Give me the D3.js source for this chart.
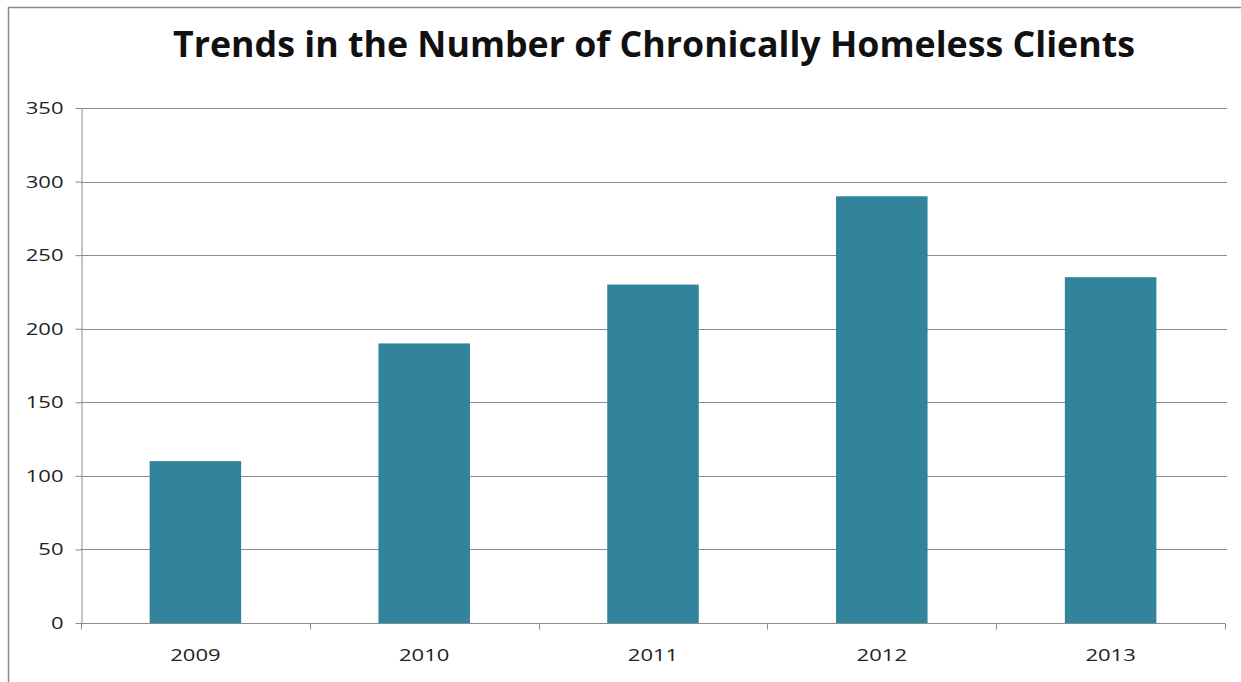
<!DOCTYPE html>
<html>
<head>
<meta charset="utf-8">
<script src="https://cdn.jsdelivr.net/npm/d3@7"></script>
<style>
  html, body { margin: 0; padding: 0; background: #fff; }
  svg { display: block; }
</style>
</head>
<body>
<svg id="chart" width="1241" height="682"></svg>
<script>
// Chronically homeless clients per year
const years = ["2009", "2010", "2011", "2012", "2013"];
const clients = [110, 190, 230, 290, 235];
const yTicks = [0, 50, 100, 150, 200, 250, 300, 350];

const svg = d3.select("#chart");
const W = 1241, H = 682;
const plot = { left: 81, right: 1225, top: 108, bottom: 623 };
const gridColor = "#8c8c8c";
const font = "'Open Sans', 'Noto Sans', sans-serif";
const digitWidth = 12.6; // wide label glyphs

// chart frame
svg.append("path")
  .attr("d", `M8.5,${H} V7.5 H${W}`)
  .attr("fill", "none")
  .attr("stroke", "#8a8a8a")
  .attr("stroke-width", 1.5);

// title
svg.append("text")
  .attr("x", 173)
  .attr("y", 57)
  .attr("font-family", font)
  .attr("font-weight", "bold")
  .attr("font-size", 35)
  .attr("textLength", 962)
  .attr("lengthAdjust", "spacingAndGlyphs")
  .attr("fill", "#111")
  .text("Trends in the Number of Chronically Homeless Clients");

const x = d3.scaleBand().domain(years).range([plot.left, plot.right]).padding(0);
const y = d3.scaleLinear().domain([0, 350]).range([plot.bottom, plot.top]);

// horizontal gridlines
svg.append("g")
  .selectAll("line")
  .data(yTicks.filter(d => d > 0))
  .join("line")
  .attr("x1", plot.left)
  .attr("x2", plot.right + 2)
  .attr("y1", d => Math.round(y(d)) + 0.5)
  .attr("y2", d => Math.round(y(d)) + 0.5)
  .attr("stroke", gridColor)
  .attr("stroke-width", 1);

// bars
const barFrac = 0.4;
svg.append("g")
  .selectAll("rect")
  .data(years.map((yr, i) => ({ yr, v: clients[i] })))
  .join("rect")
  .attr("x", d => x(d.yr) + x.bandwidth() * (1 - barFrac) / 2)
  .attr("width", x.bandwidth() * barFrac)
  .attr("y", d => y(d.v))
  .attr("height", d => y(0) - y(d.v))
  .attr("fill", "#31849b");

// y axis
const yAxis = svg.append("g")
  .attr("transform", `translate(${plot.left + 0.5},0)`)
  .call(d3.axisLeft(y).tickValues(yTicks).tickSize(6).tickPadding(12).tickSizeOuter(0));
yAxis.select(".domain").attr("stroke", gridColor);
yAxis.selectAll(".tick line").attr("stroke", gridColor);
yAxis.selectAll(".tick text")
  .attr("font-family", font)
  .attr("font-size", 17)
  .attr("fill", "#222")
  .attr("textLength", function () { return this.textContent.length * digitWidth; })
  .attr("lengthAdjust", "spacingAndGlyphs");

// x axis
const bounds = x.domain().map(d => x(d)).concat([plot.right]);
const xAxis = svg.append("g")
  .attr("transform", `translate(0,${Math.round(plot.bottom) + 0.5})`);
xAxis.append("line")
  .attr("x1", plot.left)
  .attr("x2", plot.right)
  .attr("stroke", gridColor);
xAxis.selectAll(".xtick")
  .data(bounds)
  .join("line")
  .attr("class", "xtick")
  .attr("x1", d => Math.round(d) + 0.5)
  .attr("x2", d => Math.round(d) + 0.5)
  .attr("y1", 0)
  .attr("y2", 6)
  .attr("stroke", gridColor);
xAxis.selectAll(".xlabel")
  .data(years)
  .join("text")
  .attr("class", "xlabel")
  .attr("x", d => x(d) + x.bandwidth() / 2 - 2 * digitWidth)
  .attr("y", 37)
  .attr("font-family", font)
  .attr("font-size", 17)
  .attr("fill", "#222")
  .attr("textLength", d => d.length * digitWidth)
  .attr("lengthAdjust", "spacingAndGlyphs")
  .text(d => d);
</script>
</body>
</html>
